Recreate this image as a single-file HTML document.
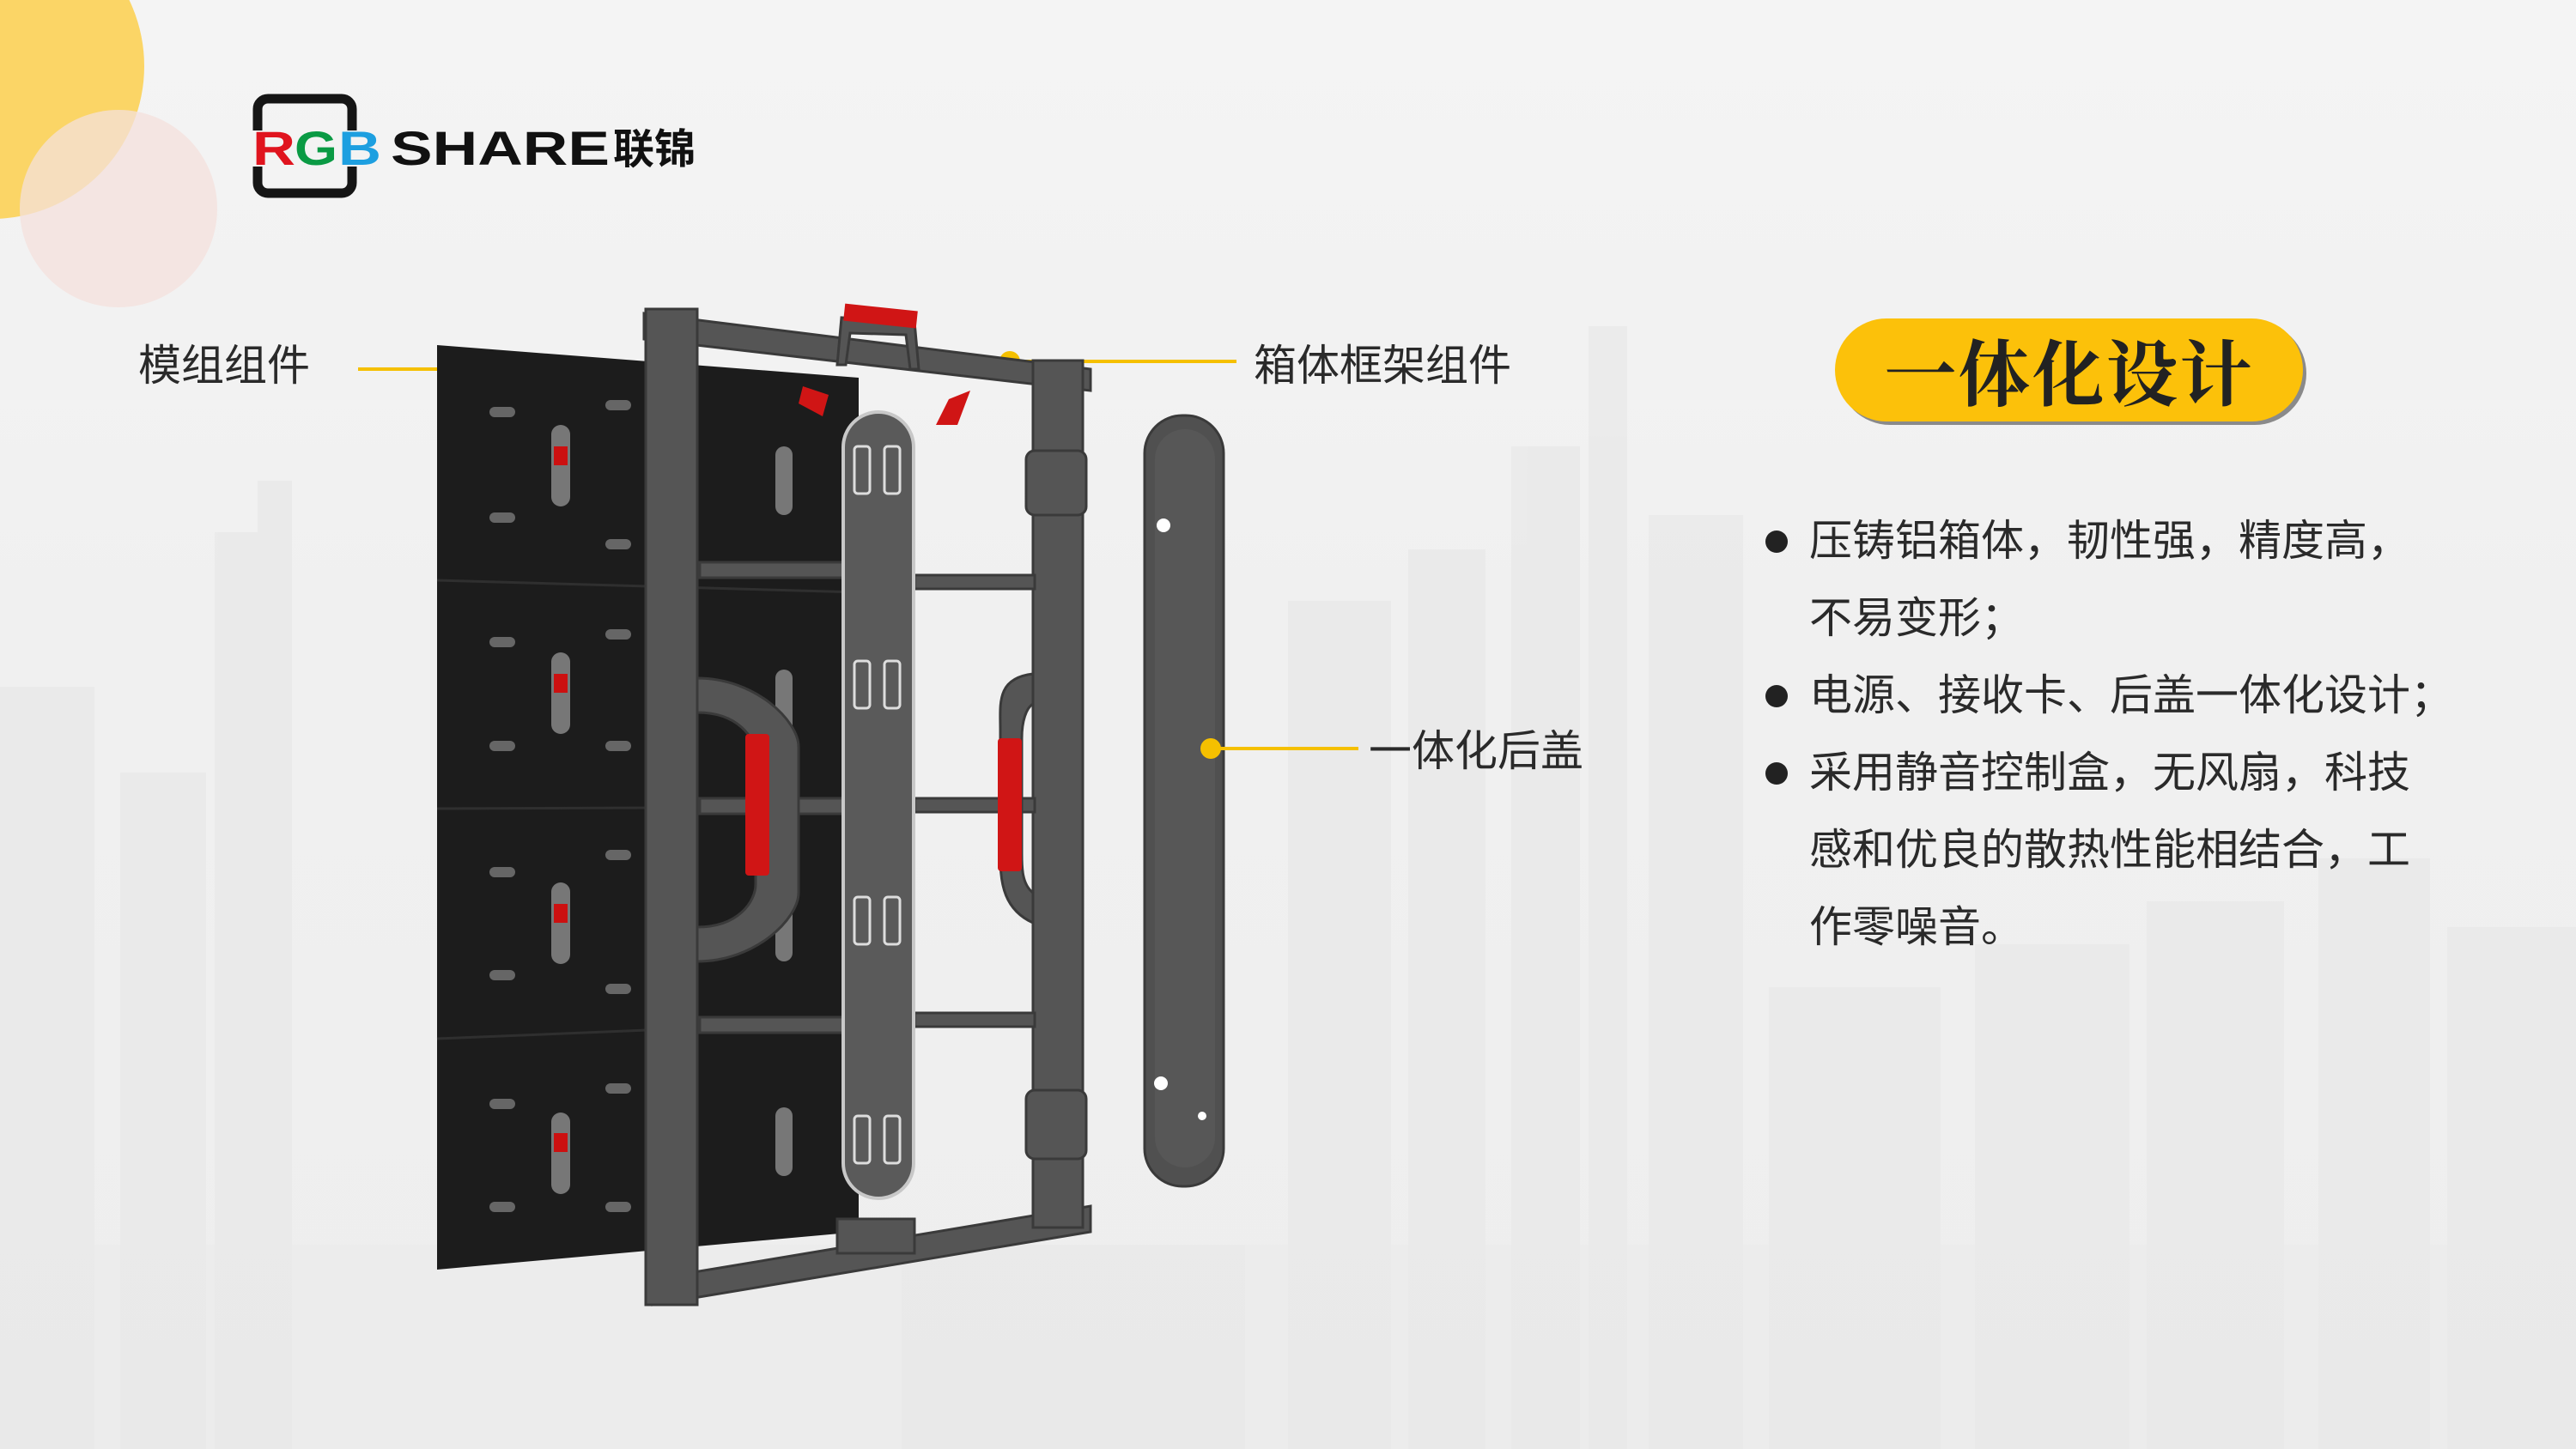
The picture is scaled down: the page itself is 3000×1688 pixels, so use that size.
<!DOCTYPE html>
<html><head><meta charset="utf-8">
<style>
html,body{margin:0;padding:0}
body{width:3000px;height:1688px;position:relative;overflow:hidden;background:#f2f2f2;font-family:"Liberation Sans","Noto Sans CJK SC",sans-serif}
.lbl{position:absolute;font-size:50px;color:#2a2a2a;white-space:nowrap;line-height:1}
.bl{position:absolute;left:2107px;font-size:50px;color:#2a2a2a;white-space:nowrap;line-height:1}
.dot{position:absolute;left:2056px;width:26px;height:26px;border-radius:50%;background:#222}
</style></head><body>
<svg width="3000" height="1688" style="position:absolute;left:0;top:0">
<defs>
<linearGradient id="bg" x1="0" y1="0" x2="0" y2="1">
<stop offset="0" stop-color="#f4f4f4"/><stop offset="0.45" stop-color="#f0f0f0"/><stop offset="1" stop-color="#eeeeee"/></linearGradient>
</defs>
<rect width="3000" height="1688" fill="url(#bg)"/>
<!-- faint city -->
<g fill="#e6e6e6" opacity="0.55">
<rect x="0" y="800" width="110" height="888"/>
<rect x="250" y="620" width="90" height="1068"/>
<rect x="300" y="560" width="40" height="80"/>
<rect x="140" y="900" width="100" height="788"/>
<rect x="1500" y="700" width="120" height="988"/>
<rect x="1640" y="640" width="90" height="1048"/>
<rect x="1760" y="520" width="80" height="1168"/>
<rect x="1850" y="380" width="45" height="1308"/>
<rect x="1920" y="600" width="110" height="1088"/>
<rect x="2060" y="1150" width="200" height="538"/>
<rect x="2300" y="1100" width="180" height="588"/>
<rect x="2500" y="1050" width="160" height="638"/>
<rect x="2700" y="1000" width="130" height="688"/>
<rect x="2850" y="1080" width="150" height="608"/>
<rect x="1050" y="1450" width="400" height="238"/>
<rect x="0" y="1450" width="3000" height="238" opacity="0.5"/>
</g>
<!-- circles -->
<circle cx="-10" cy="77" r="178" fill="#fbd566"/>
<circle cx="138" cy="243" r="115" fill="#f4e0dc" opacity="0.75"/>

<!-- leader lines -->
<line x1="417" y1="430" x2="590" y2="430" stroke="#f5c000" stroke-width="4"/>
<circle cx="592" cy="430" r="12" fill="#f5c000"/>
<line x1="1176" y1="421" x2="1440" y2="421" stroke="#f5c000" stroke-width="4"/>
<circle cx="1176" cy="421" r="12" fill="#f5c000"/>

<!-- module panel -->
<polygon points="509,402 1000,440 1000,1435 509,1479" fill="#1c1c1c"/>
<g stroke="#2f2f2f" stroke-width="3">
<line x1="509" y1="676" x2="1000" y2="690"/>
<line x1="509" y1="942" x2="1000" y2="940"/>
<line x1="509" y1="1210" x2="1000" y2="1190"/>
</g>
<g fill="#777">
<rect x="642" y="495" width="22" height="95" rx="11"/><rect x="642" y="760" width="22" height="95" rx="11"/>
<rect x="642" y="1028" width="22" height="95" rx="11"/><rect x="642" y="1296" width="22" height="95" rx="11"/>
<rect x="903" y="520" width="20" height="80" rx="10"/><rect x="903" y="780" width="20" height="80" rx="10"/>
<rect x="903" y="1040" width="20" height="80" rx="10"/><rect x="903" y="1290" width="20" height="80" rx="10"/>
</g>
<g fill="#cc1010">
<rect x="645" y="520" width="16" height="22"/><rect x="645" y="785" width="16" height="22"/>
<rect x="645" y="1053" width="16" height="22"/><rect x="645" y="1320" width="16" height="22"/>
</g>
<g fill="#666">
<rect x="570" y="474" width="30" height="12" rx="6"/><rect x="570" y="597" width="30" height="12" rx="6"/>
<rect x="705" y="466" width="30" height="12" rx="6"/><rect x="705" y="628" width="30" height="12" rx="6"/>
<rect x="570" y="742" width="30" height="12" rx="6"/><rect x="570" y="863" width="30" height="12" rx="6"/>
<rect x="705" y="733" width="30" height="12" rx="6"/><rect x="705" y="863" width="30" height="12" rx="6"/>
<rect x="570" y="1010" width="30" height="12" rx="6"/><rect x="570" y="1130" width="30" height="12" rx="6"/>
<rect x="705" y="990" width="30" height="12" rx="6"/><rect x="705" y="1146" width="30" height="12" rx="6"/>
<rect x="570" y="1280" width="30" height="12" rx="6"/><rect x="570" y="1400" width="30" height="12" rx="6"/>
<rect x="705" y="1262" width="30" height="12" rx="6"/><rect x="705" y="1400" width="30" height="12" rx="6"/>
</g>

<!-- frame -->
<g fill="#555" stroke="#3a3a3a" stroke-width="3">
<polygon points="750,365 1270,430 1270,455 750,395"/>
<polygon points="760,1490 1270,1405 1270,1435 760,1520"/>
<rect x="752" y="360" width="60" height="1160"/>
<rect x="1203" y="420" width="58" height="1010"/>
<rect x="815" y="655" width="170" height="18"/><rect x="815" y="930" width="170" height="18"/><rect x="815" y="1185" width="170" height="18"/>
<rect x="1065" y="670" width="140" height="16"/><rect x="1065" y="930" width="140" height="16"/><rect x="1065" y="1180" width="140" height="16"/>
<path d="M812,790 C880,790 930,840 930,870 L930,1040 C930,1070 880,1120 812,1120 L812,1080 C860,1080 880,1050 880,1030 L880,880 C880,860 860,830 812,830 Z"/>
<path d="M1203,785 C1160,790 1165,820 1165,850 L1165,1000 C1165,1030 1170,1060 1203,1075 L1203,1040 C1190,1030 1190,1010 1190,995 L1190,860 C1190,840 1195,825 1203,820 Z"/>
<rect x="1195" y="525" width="70" height="75" rx="10"/>
<rect x="1195" y="1270" width="70" height="80" rx="10"/>
<path d="M975,425 L980,370 L1065,375 L1070,430 L1060,430 L1055,390 L990,388 L985,425 Z"/>
<rect x="975" y="1420" width="90" height="40"/>
</g>
<g fill="#d01515">
<rect x="983" y="358" width="85" height="20" transform="rotate(6 1025 368)"/>
<rect x="868" y="855" width="28" height="165" rx="4"/>
<rect x="1162" y="860" width="28" height="155" rx="4"/>
<polygon points="935,450 965,460 958,485 930,470"/>
<polygon points="1105,465 1130,455 1115,495 1090,495"/>
</g>
<!-- center plate -->
<rect x="982" y="480" width="82" height="916" rx="41" fill="#5a5a5a" stroke="#c8c8c8" stroke-width="4"/>
<g fill="none" stroke="#ddd" stroke-width="3">
<rect x="995" y="520" width="18" height="55" rx="4"/><rect x="1030" y="520" width="18" height="55" rx="4"/>
<rect x="995" y="770" width="18" height="55" rx="4"/><rect x="1030" y="770" width="18" height="55" rx="4"/>
<rect x="995" y="1045" width="18" height="55" rx="4"/><rect x="1030" y="1045" width="18" height="55" rx="4"/>
<rect x="995" y="1300" width="18" height="55" rx="4"/><rect x="1030" y="1300" width="18" height="55" rx="4"/>
</g>
<!-- cover -->
<rect x="1333" y="484" width="92" height="898" rx="44" fill="#505050" stroke="#3a3a3a" stroke-width="3"/>
<rect x="1345" y="500" width="70" height="860" rx="35" fill="#575757"/>
<circle cx="1355" cy="612" r="8" fill="#fff"/>
<circle cx="1352" cy="1262" r="8" fill="#fff"/>
<circle cx="1400" cy="1300" r="5" fill="#fff"/>
<line x1="1410" y1="872" x2="1582" y2="872" stroke="#f5c000" stroke-width="4"/>
<circle cx="1410" cy="872" r="12" fill="#f5c000"/>

<!-- pill -->
<rect x="2141" y="375" width="545" height="120" rx="60" fill="#8a8a8a"/>
<rect x="2137" y="371" width="545" height="120" rx="60" fill="#fcc10a"/>

<!-- logo -->
<rect x="300" y="115" width="110" height="110" rx="12" fill="none" stroke="#151515" stroke-width="11"/>
<rect x="292" y="152" width="160" height="42" fill="#f3f3f3"/>
<text x="294" y="192" font-family="Liberation Sans,sans-serif" font-weight="bold" font-size="56" fill="#e0141e" textLength="50" lengthAdjust="spacingAndGlyphs">R</text>
<text x="343" y="192" font-family="Liberation Sans,sans-serif" font-weight="bold" font-size="56" fill="#0a9a44" textLength="50" lengthAdjust="spacingAndGlyphs">G</text>
<text x="394" y="192" font-family="Liberation Sans,sans-serif" font-weight="bold" font-size="56" fill="#1d9fe0" textLength="50" lengthAdjust="spacingAndGlyphs">B</text>
<text x="455" y="192" font-family="Liberation Sans,sans-serif" font-weight="bold" font-size="56" fill="#111" textLength="255" lengthAdjust="spacingAndGlyphs">SHARE</text>
<text x="714" y="190" font-family="Liberation Sans,Noto Sans CJK SC,sans-serif" font-weight="bold" font-size="48" fill="#111">联锦</text>
</svg>

<div class="lbl" style="left:161px;top:401px">模组组件</div>
<div class="lbl" style="left:1460px;top:401px">箱体框架组件</div>
<div class="lbl" style="left:1594px;top:850px">一体化后盖</div>

<div style="position:absolute;left:2137px;top:371px;width:545px;height:120px;line-height:120px;text-align:center;font-size:84px;font-weight:bold;color:#222;font-family:'Noto Serif CJK SC','Noto Sans CJK SC',serif;letter-spacing:2px">一体化设计</div>

<div class="dot" style="top:618px"></div>
<div class="bl" style="top:605px">压铸铝箱体，韧性强，精度高，</div>
<div class="bl" style="top:695px">不易变形；</div>
<div class="dot" style="top:798px"></div>
<div class="bl" style="top:785px">电源、接收卡、后盖一体化设计；</div>
<div class="dot" style="top:888px"></div>
<div class="bl" style="top:875px">采用静音控制盒，无风扇，科技</div>
<div class="bl" style="top:965px">感和优良的散热性能相结合，工</div>
<div class="bl" style="top:1055px">作零噪音。</div>
</body></html>
